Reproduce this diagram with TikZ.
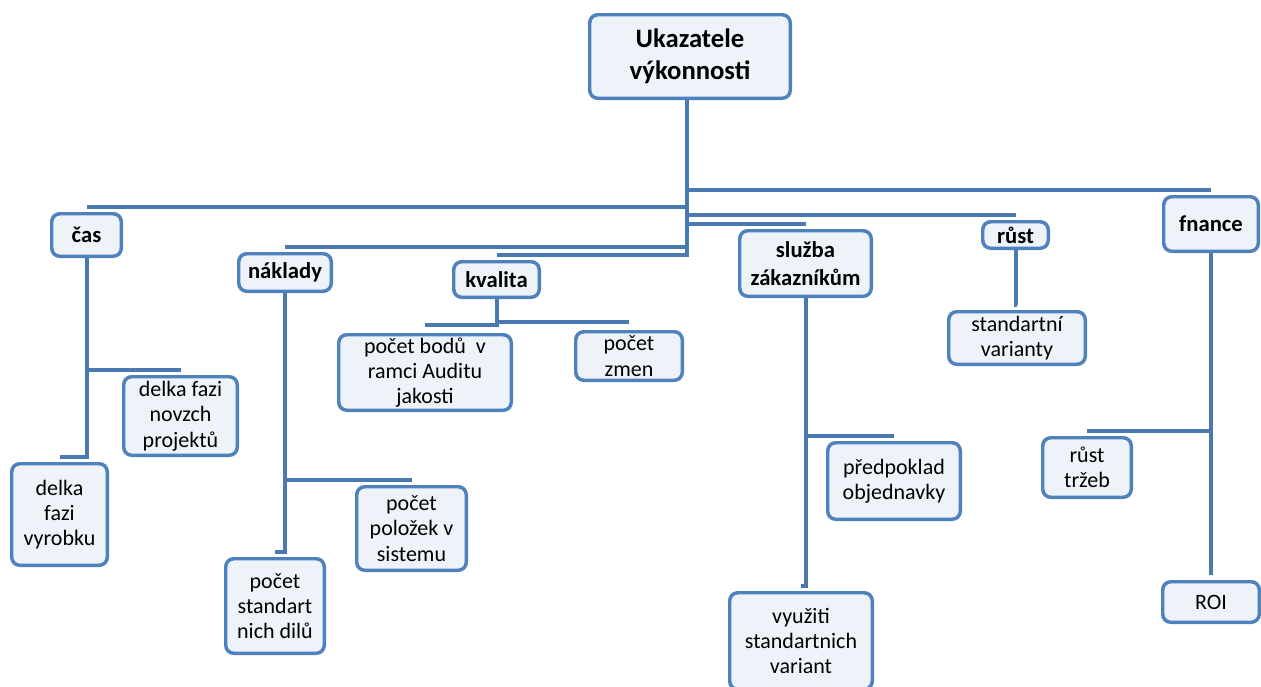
\documentclass[tikz,border=0pt]{standalone}
\usepackage{fontspec}
\setmainfont{Carlito}
\definecolor{boxline}{HTML}{4F81BD}
\definecolor{boxfill}{HTML}{EEF3FA}
\definecolor{linkline}{HTML}{4A78B0}
\tikzset{
  dims/.style 2 args={minimum width=#1*0.75pt-2.6pt, minimum height=#2*0.75pt-2.6pt},
  leaf/.style={draw=boxline, fill=boxfill, line width=2.6pt, rounded corners=6pt,
    align=center, inner sep=0pt, font=\fontsize{16.5}{19}\selectfont},
  cat/.style={leaf, font=\bfseries\fontsize{17}{21}\selectfont},
  rootbox/.style={leaf, font=\bfseries\fontsize{20}{24}\selectfont},
  link/.style={draw=linkline, line width=3pt}
}
\begin{document}
\begin{tikzpicture}[x=0.75pt,y=-0.75pt]
    \useasboundingbox (0,0) rectangle (1261,686);
    \node[rootbox, dims={204}{87}] (root) at (690,56.5) {Ukazatele\\výkonnosti};
    \node[cat, dims={73}{46}] (cas) at (86.5,235) {čas};
    \node[cat, dims={96}{41}] (naklady) at (285,272.5) {náklady};
    \node[cat, dims={89}{39}] (kvalita) at (496.5,279.5) {kvalita};
    \node[cat, dims={135}{69}] (sluzba) at (805.5,263.5) {služba\\zákazníkům};
    \node[cat, dims={69}{30}] (rust) at (1015.5,235) {růst};
    \node[cat, dims={98}{58}] (fnance) at (1211,224) {fnance};
    \node[leaf, dims={117}{82}] (novzch) at (180.5,416) {delka fazi\\novzch\\projektů};
    \node[leaf, dims={99}{105}] (vyrobku) at (59.5,514.5) {delka\\fazi\\vyrobku};
    \node[leaf, dims={113}{87}] (polozek) at (411.5,528.5) {počet\\položek v\\sistemu};
    \node[leaf, dims={102}{98}] (standart) at (275,606) {počet\\standart\\nich dilů};
    \node[leaf, dims={176}{79}] (body) at (425,372.5) {počet bodů~~v\\ramci Auditu\\jakosti};
    \node[leaf, dims={110}{52}] (zmen) at (629,356) {počet\\zmen};
    \node[leaf, dims={140}{56}] (varianty) at (1017,338) {standartní\\varianty};
    \node[leaf, dims={136}{80}] (predpoklad) at (894,481) {předpoklad\\objednavky};
    \node[leaf, dims={146}{100}] (vyuziti) at (801,641) {využiti\\standartnich\\variant};
    \node[leaf, dims={92}{63}] (trzeb) at (1087,467.5) {růst\\tržeb};
    \node[leaf, dims={100}{44}] (roi) at (1211,602) {ROI};
    \foreach \kid in {cas,naklady,kvalita,sluzba,rust,fnance}
        \draw[link] ([xshift=-2pt]root.south) |- ([yshift=4pt]\kid.north);
    \draw[link] (cas.south) |- ([yshift=4pt]novzch.north);
    \draw[link] (cas.south) |- ([yshift=4pt]vyrobku.north);
    \draw[link] (naklady.south) |- ([yshift=4pt]polozek.north);
    \draw[link] (naklady.south) |- ([yshift=4pt]standart.north);
    \draw[link] (kvalita.south) |- ([yshift=6pt]body.north);
    \draw[link] (kvalita.south) |- ([yshift=6pt]zmen.north);
    \draw[link] (rust.south) |- ([yshift=4pt]varianty.north);
    \draw[link] (sluzba.south) |- ([yshift=4pt]predpoklad.north);
    \draw[link] (sluzba.south) |- ([yshift=4pt]vyuziti.north);
    \draw[link] (fnance.south) |- ([yshift=4pt]trzeb.north);
    \draw[link] (fnance.south) |- ([yshift=4pt]roi.north);
\end{tikzpicture}
\end{document}
